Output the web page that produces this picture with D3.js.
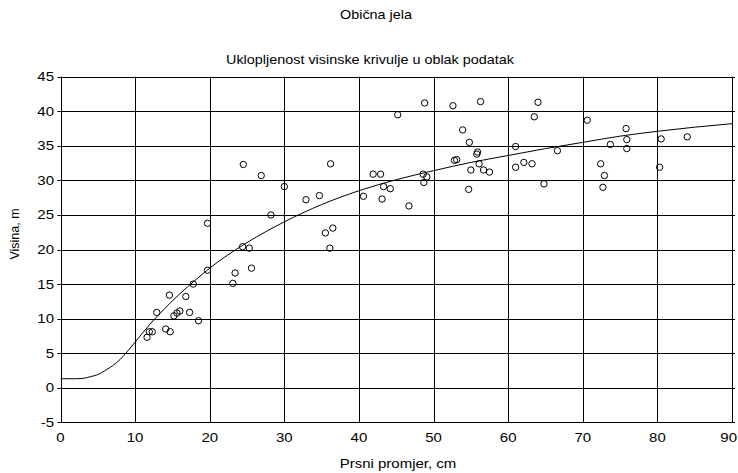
<!DOCTYPE html>
<html><head><meta charset="utf-8">
<script src="https://cdn.jsdelivr.net/npm/d3@7"></script>
<style>body{margin:0;background:#fff}svg{display:block}text{font-family:"Liberation Sans",Arial,sans-serif;fill:#000}</style>
</head><body><svg id="c" width="738" height="473"></svg>
<script>
const xTicks = [0,10,20,30,40,50,60,70,80,90];
const yTicks = [-5,0,5,10,15,20,25,30,35,40,45];
const dbh = [28.2,19.7,24.4,25.3,19.7,17.8,23.4,25.6,23.1,14.6,16.8,12.9,16.0,15.6,15.2,17.3,18.5,11.9,12.3,11.6,14.1,14.7,
  24.5,26.9,36.2,30.0,32.9,34.7,35.5,36.5,36.1,45.2,48.8,41.9,42.9,43.3,44.2,40.6,43.1,46.7,48.6,49.1,48.7,
  52.6,56.3,64.0,63.5,70.6,53.9,54.8,61.0,66.6,55.9,55.8,52.8,53.1,56.1,55.0,56.7,57.5,61.0,62.1,63.2,64.8,54.7,
  75.8,75.9,73.7,75.9,80.5,84.0,72.4,72.9,72.7,80.3];
const height = [25.0,23.8,20.4,20.2,17.0,15.0,16.6,17.3,15.1,13.4,13.2,10.9,11.1,10.8,10.4,10.9,9.7,8.1,8.1,7.3,8.5,8.1,
  32.3,30.7,32.4,29.1,27.2,27.8,22.4,23.1,20.2,39.5,41.2,30.9,30.9,29.1,28.8,27.7,27.3,26.3,30.9,30.5,29.7,
  40.8,41.4,41.3,39.2,38.7,37.3,35.5,34.9,34.3,34.1,33.8,32.9,33.0,32.4,31.5,31.5,31.2,31.9,32.6,32.4,29.5,28.7,
  37.5,35.9,35.2,34.6,36.0,36.3,32.4,30.7,29.0,31.9];
const curveX = [0,2,3,4,5,6,7,8,9,10,12,14,16,18,20,22,25,30,35,40,45,50,55,60,65,70,75,80,85,90];
const curveY = [1.3,1.3,1.35,1.6,1.9,2.5,3.2,4.1,5.3,6.6,9.2,11.5,13.6,15.5,17.3,18.9,21.0,24.0,26.5,28.5,30.1,31.4,32.6,33.6,34.6,35.5,36.4,37.1,37.7,38.2];

const svg = d3.select("#c");
const L=60.5, R=732, T=76.7, B=422.3;
const SX = 1.2;
const x = d3.scaleLinear().domain([0,90]).range([L,R]);
const y = d3.scaleLinear().domain([-5,45]).range([B,T]);

const g = svg.append("g");
g.selectAll(".vg").data(xTicks).join("line")
  .attr("x1",d=>Math.round(x(d))+0.5).attr("x2",d=>Math.round(x(d))+0.5)
  .attr("y1",T).attr("y2",B).attr("stroke","#000").attr("stroke-width",1);
g.selectAll(".hg").data(yTicks).join("line")
  .attr("y1",d=>Math.round(y(d))+0.5).attr("y2",d=>Math.round(y(d))+0.5)
  .attr("x1",L).attr("x2",R).attr("stroke","#000").attr("stroke-width",1);
g.selectAll(".lt").data(yTicks).join("line")
  .attr("y1",d=>Math.round(y(d))+0.5).attr("y2",d=>Math.round(y(d))+0.5)
  .attr("x1",L-3).attr("x2",L).attr("stroke","#000");
g.selectAll(".rt").data(yTicks).join("line")
  .attr("y1",d=>Math.round(y(d))+0.5).attr("y2",d=>Math.round(y(d))+0.5)
  .attr("x1",R).attr("x2",R+3).attr("stroke","#000");

const lastX = xTicks[xTicks.length-1];
g.selectAll(".xl").data(xTicks).join("text")
  .attr("transform",d=>`translate(${d===lastX ? 737 : x(d)},442) scale(${SX},1)`)
  .attr("text-anchor",d=>d===lastX ? "end" : "middle")
  .attr("font-size",12.5).text(d=>d);
g.selectAll(".yl").data(yTicks).join("text")
  .attr("transform",d=>`translate(54,${y(d)+4.5}) scale(${SX},1)`).attr("text-anchor","end")
  .attr("font-size",12.5).text(d=>d);

const line = d3.line().x((d,i)=>x(curveX[i])).y(d=>y(d)).curve(d3.curveMonotoneX);
g.append("path").datum(curveY).attr("d",line).attr("fill","none").attr("stroke","#000").attr("stroke-width",1);

g.selectAll(".pt").data(dbh).join("circle")
  .attr("cx",d=>x(d)).attr("cy",(d,i)=>y(height[i])).attr("r",3.2)
  .attr("fill","none").attr("stroke","#000").attr("stroke-width",1);

function htext(cx, cy, fs, s){
  svg.append("text").attr("transform",`translate(${cx},${cy}) scale(${SX},1)`)
    .attr("text-anchor","middle").attr("font-size",fs).text(s);
}
htext(376,19,12,"Obična jela");
htext(370,64,12,"Uklopljenost visinske krivulje u oblak podatak");
htext(398,468,12.5,"Prsni promjer, cm");
svg.append("text").attr("transform","translate(19,234) rotate(-90)").attr("text-anchor","middle").attr("font-size",12.5).text("Visina, m");
</script></body></html>
